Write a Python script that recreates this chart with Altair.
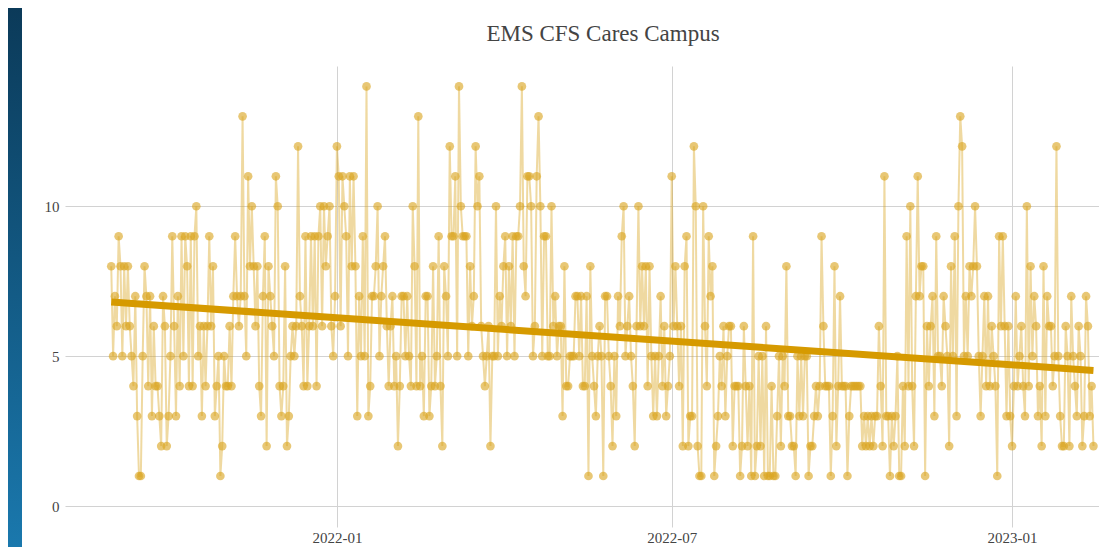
import altair as alt
import pandas as pd

TITLE = "EMS CFS Cares Campus"
START_DATE = "2021-09-01T00:00:00"

# daily call counts left to right
CALLS = [
    8, 5, 7, 6, 9, 8, 5, 8, 6, 8, 6, 5, 4, 7, 3, 1, 1, 5, 8, 7, 4, 7, 3, 6, 4, 4, 3, 2, 7, 6, 2, 3, 5, 9, 6, 3, 7, 4, 9,
    5, 9, 8, 4, 9, 4, 9, 10, 5, 6, 3, 6, 4, 6, 9, 6, 8, 3, 4, 5, 1, 2, 5, 4, 4, 6, 4, 7, 9, 7, 6, 7, 13, 7, 5, 11, 8, 10, 8, 6, 8, 4, 3, 7,
    9, 2, 8, 7, 6, 5, 11, 10, 4, 3, 4, 8, 2, 3, 5, 6, 5, 6, 12, 7, 6, 4, 9, 4, 6, 9, 6, 9, 4, 9, 10, 6, 10, 8, 9, 10, 6, 5, 7, 12, 11, 6, 11, 10,
    9, 5, 11, 8, 11, 8, 3, 7, 5, 9, 5, 14, 3, 4, 7, 7, 8, 10, 5, 7, 8, 9, 6, 4, 6, 7, 4, 5, 2, 4, 7, 7, 5, 7, 5, 4, 10, 8, 4, 13, 4, 5, 3, 7,
    7, 3, 4, 8, 4, 5, 9, 4, 2, 8, 7, 5, 12, 9, 9, 11, 5, 14, 10, 9, 9, 9, 5, 8, 6, 7, 12, 10, 11, 6, 5, 4, 5, 6, 2, 5, 5, 10, 5, 7, 6, 8, 9, 5,
    8, 6, 9, 5, 9, 9, 10, 14, 8, 7, 11, 11, 10, 5, 6, 11, 13, 10, 5, 9, 9, 5, 5, 10, 6, 7, 5, 6, 6, 3, 8, 4, 4, 5, 5, 5, 7, 7, 5, 7, 4, 4, 7, 1,
    8, 5, 4, 3, 5, 6, 5, 1, 7, 7, 5, 4, 2, 5, 3, 7, 6, 9, 10, 5, 6, 7, 5, 4, 2, 6, 10, 6, 8, 6, 8, 4, 8, 5, 3, 5, 3, 5, 7, 4, 6, 3, 4, 5,
    11, 6, 8, 6, 4, 6, 2, 8, 9, 2, 3, 3, 12, 10, 2, 1, 1, 10, 6, 4, 9, 7, 8, 1, 2, 3, 5, 4, 6, 3, 5, 6, 6, 2, 4, 4, 4, 1, 2, 6, 4, 2, 4, 1,
    9, 1, 2, 5, 2, 5, 1, 6, 1, 1, 4, 1, 1, 3, 5, 2, 5, 4, 8, 3, 3, 2, 2, 1, 5, 3, 5, 3, 5, 5, 1, 2, 2, 3, 4, 3, 4, 9, 6, 4, 4, 4, 1, 3,
    8, 2, 4, 7, 4, 4, 4, 1, 3, 4, 4, 4, 4, 4, 4, 2, 3, 2, 3, 2, 3, 2, 3, 3, 6, 4, 2, 11, 3, 3, 1, 3, 2, 3, 5, 1, 1, 4, 2, 9, 4, 10, 4, 2, 7,
    11, 7, 8, 8, 1, 6, 4, 6, 7, 3, 9, 5, 5, 4, 7, 6, 5, 2, 8, 5, 9, 3, 10, 13, 12, 5, 7, 5, 8, 7, 8, 10, 8, 5, 3, 5, 7, 4, 7, 4, 6, 5, 4, 1, 9, 6,
    9, 6, 3, 6, 3, 2, 4, 7, 4, 5, 6, 4, 3, 10, 4, 8, 5, 7, 6, 3, 4, 2, 8, 3, 7, 6, 6, 4, 5, 12, 5, 3, 2, 2, 6, 5, 2, 7, 5, 4, 3, 6, 5, 2, 3, 7, 6, 3, 4, 2,
]

X_TICKS = [alt.DateTime(year=2022, month=1, date=1),
           alt.DateTime(year=2022, month=7, date=1),
           alt.DateTime(year=2023, month=1, date=1)]
X_DOMAIN = [alt.DateTime(year=2021, month=8, date=7),
            alt.DateTime(year=2023, month=2, date=17)]
Y_TICKS = [0, 5, 10]
Y_DOMAIN = [-0.7, 14.68]

dates = pd.date_range(START_DATE, periods=len(CALLS), freq="D").strftime("%Y-%m-%dT%H:%M:%S")
df = pd.DataFrame({"date": list(dates), "calls": CALLS})

W, H = 1034, 461
GOLD = "#DAA520"
TREND = "#D69A00"
FONT = "Liberation Serif"
GRID = "#d2d2d2"
TXT = "#444444"

x_enc = alt.X(
    "date:T",
    scale=alt.Scale(domain=X_DOMAIN),
    axis=alt.Axis(values=X_TICKS, format="%Y-%m", title=None, grid=True,
                  gridColor=GRID, gridWidth=1, domain=False, ticks=False,
                  labelFont=FONT, labelFontSize=15, labelColor=TXT,
                  labelPadding=3),
)
y_enc = alt.Y(
    "calls:Q",
    scale=alt.Scale(domain=Y_DOMAIN, nice=False, zero=False),
    axis=alt.Axis(values=Y_TICKS, title=None, grid=True, gridColor=GRID,
                  gridWidth=1, domain=False, ticks=False, labelFont=FONT,
                  labelFontSize=15, labelColor=TXT, labelPadding=6),
)

base = alt.Chart(df).encode(x=x_enc, y=y_enc)

line = base.mark_line(color=GOLD, strokeWidth=2, opacity=0.42)
points = base.mark_circle(color=GOLD, size=75, opacity=0.62)
trend = base.transform_regression("date", "calls").mark_line(
    color=TREND, strokeWidth=7)

strip = alt.Chart(alt.Data(values=[{}])).mark_rect(
    fill=alt.LinearGradient(
        gradient="linear",
        stops=[alt.GradientStop(color="#0b3a59", offset=0),
               alt.GradientStop(color="#1a78ad", offset=1)],
        x1=0, x2=0, y1=0, y2=1),
).encode(x=alt.value(-57), x2=alt.value(-43), y=alt.value(-58), y2=alt.value(H + 20))

title = alt.Chart(alt.Data(values=[{"t": TITLE}])).mark_text(
    font=FONT, fontSize=23, color=TXT, baseline="alphabetic", align="center"
).encode(text="t:N", x=alt.value(538), y=alt.value(-25))

chart = alt.layer(strip, line, points, trend, title).properties(
    width=W, height=H,
    autosize=alt.AutoSizeParams(type="none"),
    padding={"left": 57, "top": 58, "right": 0, "bottom": 20},
    background="white",
).configure_view(stroke=None)

chart.save("out.html", embed_options={"renderer": "svg", "actions": False})
